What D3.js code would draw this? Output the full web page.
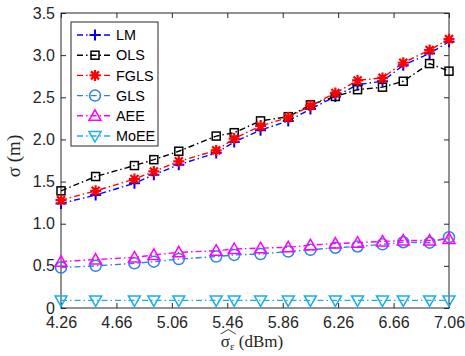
<!DOCTYPE html>
<html><head><meta charset="utf-8">
<script src="https://cdn.jsdelivr.net/npm/d3@7"></script>
<style>body{margin:0;background:#fff}svg{display:block}</style>
</head><body>
<svg id="c" width="465" height="356"></svg>
<script>
const xValues = [4.26, 4.51, 4.79, 4.93, 5.11, 5.38, 5.51, 5.70, 5.90, 6.06, 6.24, 6.40, 6.58, 6.73, 6.92, 7.06];
const LM   = [1.24, 1.34, 1.48, 1.58, 1.70, 1.84, 1.97, 2.11, 2.22, 2.36, 2.51, 2.65, 2.69, 2.88, 3.02, 3.16];
const OLS  = [1.39, 1.56, 1.69, 1.76, 1.86, 2.04, 2.08, 2.22, 2.27, 2.41, 2.51, 2.59, 2.62, 2.69, 2.90, 2.81];
const FGLS = [1.28, 1.39, 1.53, 1.62, 1.74, 1.87, 2.01, 2.16, 2.26, 2.40, 2.55, 2.70, 2.73, 2.91, 3.06, 3.19];
const GLS  = [0.48, 0.50, 0.53, 0.55, 0.58, 0.61, 0.63, 0.64, 0.67, 0.69, 0.715, 0.73, 0.755, 0.78, 0.775, 0.84];
const AEE  = [0.55, 0.575, 0.60, 0.63, 0.66, 0.68, 0.70, 0.71, 0.72, 0.745, 0.765, 0.775, 0.79, 0.80, 0.80, 0.82];
const MoEE = [0.09, 0.09, 0.09, 0.09, 0.09, 0.09, 0.09, 0.09, 0.09, 0.09, 0.09, 0.09, 0.09, 0.09, 0.09, 0.09];
const seriesNames = ["LM", "OLS", "FGLS", "GLS", "AEE", "MoEE"];
const xTicks = [4.26, 4.66, 5.06, 5.46, 5.86, 6.26, 6.66, 7.06];
const yTicks = [0, 0.5, 1.0, 1.5, 2.0, 2.5, 3.0, 3.5];

const seriesData = [LM, OLS, FGLS, GLS, AEE, MoEE];
const colors = ["#0000ff", "#000000", "#ff0000", "#2f80ea", "#ff00ff", "#1aaeef"];
const markers = ["plus", "square", "star", "circle", "tri-up", "tri-down"];

const svg = d3.select("#c");
const L = 61, R = 449, T = 13, B = 308;
const x = d3.scaleLinear().domain([4.26, 7.06]).range([L, R]);
const y = d3.scaleLinear().domain([0, 3.5]).range([B, T]);
const font = "'Liberation Sans', Arial, Helvetica, sans-serif";

// axes
const gx = svg.append("g").attr("transform", `translate(0,${B})`)
  .call(d3.axisBottom(x).tickValues(xTicks).tickFormat(d3.format(".2f")).tickSizeInner(-5).tickSizeOuter(0).tickPadding(6));
const gxt = svg.append("g").attr("transform", `translate(0,${T})`)
  .call(d3.axisTop(x).tickValues(xTicks).tickFormat("").tickSizeInner(-5).tickSizeOuter(0));
const gy = svg.append("g").attr("transform", `translate(${L},0)`)
  .call(d3.axisLeft(y).tickValues(yTicks).tickFormat(d => d === 0 ? "0" : d3.format(".1f")(d)).tickSizeInner(-5).tickSizeOuter(0).tickPadding(6));
const gyr = svg.append("g").attr("transform", `translate(${R},0)`)
  .call(d3.axisRight(y).tickValues(yTicks).tickFormat("").tickSizeInner(-5).tickSizeOuter(0));
[gx, gxt, gy, gyr].forEach(g => {
  g.select(".domain").remove();
  g.selectAll("line").attr("stroke", "#262626");
  g.selectAll("text").attr("font-family", font).attr("font-size", 16).attr("fill", "#262626");
});
gx.selectAll("text").attr("dy", "0.9em");

svg.append("rect").attr("x", L).attr("y", T).attr("width", R - L).attr("height", B - T)
  .attr("fill", "none").attr("stroke", "#262626").attr("stroke-width", 1);

function drawMarker(g, type, cx, cy, color) {
  const s = g.append("g").attr("transform", `translate(${cx},${cy})`)
    .attr("fill", "none").attr("stroke", color).attr("stroke-width", 1.5);
  if (type === "plus") {
    s.append("path").attr("d", "M-5.5,0H5.5M0,-5.5V5.5").attr("stroke-width", 2);
  } else if (type === "square") {
    s.append("rect").attr("x", -4).attr("y", -4).attr("width", 8).attr("height", 8);
  } else if (type === "star") {
    s.append("path").attr("d", "M-5.5,0H5.5M0,-5.5V5.5M-4,-4L4,4M-4,4L4,-4").attr("stroke-width", 2.2);
  } else if (type === "circle") {
    s.append("circle").attr("r", 5.5);
  } else if (type === "tri-up") {
    s.append("path").attr("d", "M0,-6L6,4.5H-6Z");
  } else if (type === "tri-down") {
    s.append("path").attr("d", "M0,6L6,-4.5H-6Z");
  }
}

const line = d3.line().x((d, i) => x(xValues[i])).y(d => y(d));
const plot = svg.append("g");
seriesData.forEach((vals, k) => {
  plot.append("path").datum(vals).attr("d", line).attr("fill", "none")
    .attr("stroke", colors[k]).attr("stroke-width", 1.4).attr("stroke-dasharray", "6,3,1.5,3");
  vals.forEach((v, i) => drawMarker(plot, markers[k], x(xValues[i]), y(v), colors[k]));
});

// legend
const lg = svg.append("g");
lg.append("rect").attr("x", 71).attr("y", 22).attr("width", 87).attr("height", 124)
  .attr("fill", "#fff").attr("stroke", "#262626").attr("stroke-width", 1);
seriesNames.forEach((name, k) => {
  const yy = 35 + k * 20.2;
  lg.append("line").attr("x1", 77).attr("x2", 113).attr("y1", yy).attr("y2", yy)
    .attr("stroke", colors[k]).attr("stroke-width", 1.4).attr("stroke-dasharray", "6,3,1.5,3");
  drawMarker(lg, markers[k], 95, yy, colors[k]);
  lg.append("text").attr("x", 116).attr("y", yy).attr("dy", "0.36em")
    .attr("font-family", font).attr("font-size", 14.4).attr("fill", "#000").text(name);
});

// axis labels
const serif = "'Liberation Serif', 'Times New Roman', serif";
const xl = svg.append("text").attr("x", 252).attr("y", 347).attr("text-anchor", "middle")
  .attr("font-family", serif).attr("font-size", 17).attr("fill", "#262626");
xl.append("tspan").text("σ");
xl.append("tspan").attr("font-size", 11).attr("dy", 3).text("ε");
xl.append("tspan").attr("dy", -3).text(" (dBm)");
// wide hat over sigma
const bb = xl.node().getBBox();
const hx = bb.x;
svg.append("path").attr("d", `M${hx},${334}L${hx + 7.5},${329.5}L${hx + 15},${334}`)
  .attr("fill", "none").attr("stroke", "#262626").attr("stroke-width", 0.9);

svg.append("text").attr("transform", "translate(20,156) rotate(-90)").attr("text-anchor", "middle")
  .attr("font-family", serif).attr("font-size", 19).attr("fill", "#262626").text("σ (m)");
</script>
</body></html>
